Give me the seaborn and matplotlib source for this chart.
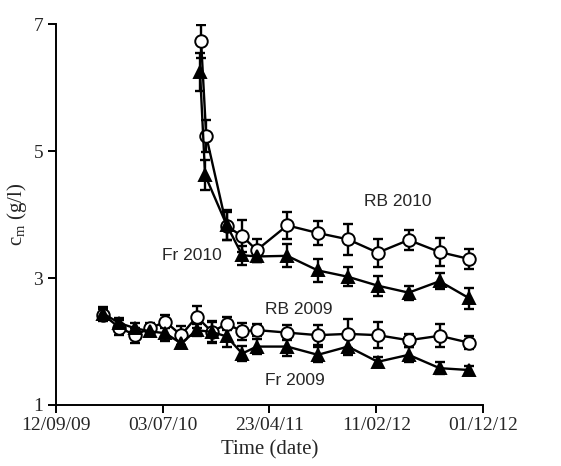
import matplotlib
matplotlib.use("Agg")
import matplotlib.pyplot as plt
import matplotlib.dates as mdates
import seaborn as sns
import pandas as pd

# ---- data ----
dates_2009 = ['2010-01-21', '2010-03-06', '2010-04-18', '2010-05-29', '2010-07-11',
              '2010-08-23', '2010-10-05', '2010-11-16', '2010-12-26', '2011-02-07',
              '2011-03-19', '2011-06-11', '2011-09-03', '2011-11-25', '2012-02-15',
              '2012-05-10', '2012-08-03', '2012-10-24']
rb_2009 = [2.42, 2.22, 2.10, 2.21, 2.31, 2.10, 2.39, 2.15, 2.28, 2.16, 2.18, 2.14,
           2.10, 2.12, 2.10, 2.02, 2.09, 1.98]
rb_2009_err = [0.10, 0.12, 0.12, 0.08, 0.10, 0.15, 0.17, 0.15, 0.10, 0.13, 0.10, 0.12,
               0.16, 0.23, 0.20, 0.10, 0.18, 0.10]
fr_2009 = [2.44, 2.29, 2.21, 2.16, 2.13, 1.97, 2.18, 2.15, 2.08, 1.81, 1.92, 1.92,
           1.79, 1.92, 1.68, 1.79, 1.58, 1.55]
fr_2009_err = [0.10, 0.08, 0.08, 0.08, 0.12, 0.05, 0.10, 0.18, 0.16, 0.12, 0.12, 0.15,
               0.12, 0.14, 0.07, 0.12, 0.10, 0.06]

dates_rb_2010 = ['2010-10-17', '2010-10-31', '2010-12-26', '2011-02-07', '2011-03-19',
                 '2011-06-11', '2011-09-03', '2011-11-25', '2012-02-15', '2012-05-10',
                 '2012-08-03', '2012-10-24']
dates_fr_2010 = ['2010-10-14', '2010-10-28', '2010-12-26', '2011-02-07', '2011-03-19',
                 '2011-06-11', '2011-09-03', '2011-11-25', '2012-02-15', '2012-05-10',
                 '2012-08-03', '2012-10-24']
rb_2010 = [6.73, 5.24, 3.82, 3.66, 3.44, 3.83, 3.71, 3.61, 3.40, 3.60, 3.41, 3.30]
rb_2010_err = [0.26, 0.25, 0.22, 0.25, 0.18, 0.21, 0.19, 0.24, 0.22, 0.16, 0.22, 0.15]
fr_2010 = [6.25, 4.62, 3.84, 3.36, 3.34, 3.35, 3.12, 3.02, 2.88, 2.77, 2.95, 2.68]
fr_2010_err = [0.30, 0.24, 0.24, 0.15, 0.08, 0.18, 0.18, 0.15, 0.16, 0.11, 0.13, 0.17]

labels = ['RB 2010', 'Fr 2010', 'RB 2009', 'Fr 2009']
label_pos = [('2012-04-11', 4.20), ('2010-09-21', 3.35), ('2011-07-12', 2.51), ('2011-07-01', 1.39)]

x_ticks = ['2009-09-12', '2010-07-03', '2011-04-23', '2012-02-11', '2012-12-01']
y_ticks = [1, 3, 5, 7]

# ---- style ----
sns.set_style("ticks")
plt.rcParams['font.family'] = ['Liberation Serif', 'DejaVu Serif']
plt.rcParams['mathtext.fontset'] = 'custom'
plt.rcParams['mathtext.rm'] = 'Liberation Serif'
plt.rcParams['mathtext.it'] = 'Liberation Serif:italic'

fig = plt.figure(figsize=(5.61, 4.66), dpi=100)
ax = fig.add_axes([0.0993, 0.131, 0.762, 0.817])

series = [
    (dates_rb_2010, rb_2010, rb_2010_err, 'o', 'white'),
    (dates_fr_2010, fr_2010, fr_2010_err, '^', 'black'),
    (dates_2009, rb_2009, rb_2009_err, 'o', 'white'),
    (dates_2009, fr_2009, fr_2009_err, '^', 'black'),
]

for d, v, e, m, fc in series:
    dt = pd.to_datetime(d)
    df = pd.DataFrame({'date': dt, 'val': v})
    ax.errorbar(dt, v, yerr=e, fmt='none', ecolor='black', elinewidth=1.7,
                capsize=3.4, capthick=1.7, zorder=2)
    sns.lineplot(data=df, x='date', y='val', ax=ax, color='black', linewidth=1.7,
                 marker=m, markersize=9, markerfacecolor=fc,
                 markeredgecolor='black', markeredgewidth=1.4, zorder=3,
                 estimator=None, sort=False)

for lab, (d, y) in zip(labels, label_pos):
    ax.text(pd.Timestamp(d), y, lab, ha='center', va='center', fontsize=12.5,
            family=['Liberation Sans', 'DejaVu Sans'])

xt = pd.to_datetime(x_ticks)
ax.set_xlim(xt[0], xt[-1])
ax.set_xticks(xt)
ax.xaxis.set_major_formatter(mdates.DateFormatter('%d/%m/%y'))
ax.set_ylim(1, 7)
ax.set_yticks(y_ticks)

ax.set_xlabel('Time (date)', fontsize=15, labelpad=4)
ax.set_ylabel(r'c$_{\mathrm{m}}$ (g/l)', fontsize=15, labelpad=3)
ax.tick_params(axis='both', labelsize=14, direction='out', length=6, width=1.4,
               color='black', pad=3)
for s in ['left', 'bottom']:
    ax.spines[s].set_linewidth(1.4)
    ax.spines[s].set_color('black')
sns.despine(ax=ax)

fig.savefig('out.png', dpi=100)
